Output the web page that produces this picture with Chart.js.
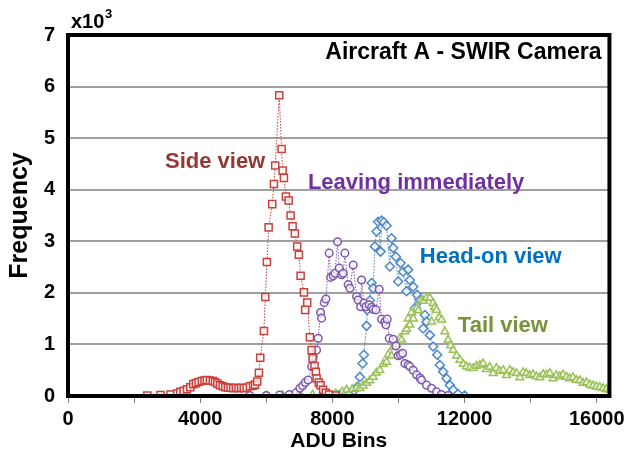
<!DOCTYPE html>
<html>
<head>
<meta charset="utf-8">
<title>Aircraft A - SWIR Camera</title>
<script src="https://cdn.jsdelivr.net/npm/chart.js@4.4.1/dist/chart.umd.min.js"></script>
<style>
  html, body { margin: 0; padding: 0; background: #fff; }
</style>
</head>
<body>
<canvas id="histogram" width="629" height="460"></canvas>
<script>
// ADU bin positions and frequencies (in thousands)
const sideX = [0, 2000, 2400, 2800, 3100, 3300, 3400, 3500, 3600, 3700, 3790, 3870, 3950, 4050, 4130, 4200, 4295, 4380, 4450, 4520, 4598, 4680, 4760, 4840, 4920, 5000, 5080, 5160, 5240, 5320, 5405, 5505, 5600, 5660, 5726, 5777, 5817, 5929, 5969, 6019, 6071, 6180, 6231, 6270, 6391, 6464, 6494, 6534, 6594, 6676, 6736, 6797, 6866, 6936, 6987, 7039, 7139, 7178, 7238, 7320, 7372, 7402, 7460, 7501, 7523, 7590, 7644, 7720, 7800, 7900, 8100, 8400, 11600];
const sideY = [0, 0, 0.01, 0.02, 0.03, 0.05, 0.08, 0.10, 0.13, 0.17, 0.23, 0.25, 0.27, 0.29, 0.30, 0.31, 0.30, 0.29, 0.27, 0.24, 0.21, 0.19, 0.17, 0.16, 0.16, 0.15, 0.16, 0.15, 0.16, 0.15, 0.16, 0.19, 0.20, 0.22, 0.28, 0.45, 0.74, 1.26, 1.92, 2.60, 3.27, 3.72, 4.11, 4.47, 5.83, 4.79, 4.37, 4.23, 3.87, 3.79, 3.50, 3.29, 3.15, 2.90, 2.74, 2.33, 2.01, 1.67, 1.81, 1.14, 0.89, 0.73, 0.58, 0.47, 0.34, 0.26, 0.21, 0.12, 0.06, 0.03, 0.01, 0, 0];

const leaveX = [0, 5000, 5500, 6000, 6400, 6700, 6900, 7017, 7100, 7180, 7269, 7372, 7420, 7523, 7571, 7644, 7674, 7753, 7804, 7904, 7946, 8025, 8076, 8158, 8206, 8279, 8327, 8379, 8478, 8530, 8630, 8733, 8781, 8854, 8884, 8953, 9014, 9114, 9186, 9235, 9316, 9416, 9489, 9589, 9619, 9658, 9719, 9840, 9921, 9991, 10060, 10124, 10194, 10293, 10345, 10445, 10548, 10650, 10699, 10850, 11001, 11153, 11300, 11500, 12000, 16000];
const leaveY = [0, 0, 0.01, 0.01, 0.02, 0.03, 0.06, 0.15, 0.20, 0.26, 0.31, 0.57, 0.76, 0.89, 1.12, 1.62, 1.51, 1.81, 1.88, 2.77, 2.30, 2.33, 2.38, 2.99, 2.48, 2.35, 2.38, 2.77, 2.16, 2.09, 2.54, 1.93, 1.86, 1.73, 2.25, 1.80, 1.73, 1.77, 1.72, 1.68, 1.67, 2.07, 1.49, 1.44, 1.38, 1.49, 1.12, 1.10, 0.97, 0.78, 0.80, 0.83, 0.63, 0.60, 0.57, 0.50, 0.41, 0.35, 0.31, 0.21, 0.15, 0.08, 0.03, 0.01, 0, 0];

const headX = [0, 6000, 7000, 7800, 8200, 8500, 8650, 8751, 8832, 8914, 8953, 9035, 9053, 9135, 9186, 9236, 9286, 9338, 9386, 9459, 9489, 9558, 9640, 9740, 9791, 9840, 9921, 9991, 10063, 10142, 10245, 10293, 10345, 10445, 10496, 10566, 10647, 10747, 10799, 10850, 10950, 11050, 11171, 11252, 11352, 11455, 11555, 11655, 11800, 12000, 12500, 16000];
const headY = [0, 0, 0.01, 0.01, 0.02, 0.05, 0.10, 0.18, 0.37, 0.63, 0.80, 1.36, 1.67, 1.85, 2.19, 2.09, 2.90, 3.19, 3.38, 2.80, 3.40, 3.37, 3.30, 2.51, 3.06, 2.87, 2.70, 2.22, 2.58, 2.41, 2.03, 2.45, 2.25, 2.12, 1.70, 1.96, 1.86, 1.31, 1.57, 1.44, 1.18, 0.96, 0.80, 0.60, 0.47, 0.34, 0.21, 0.12, 0.04, 0.01, 0, 0];

const tailX = [0, 5500, 6000, 6500, 7000, 7400, 7800, 8100, 8300, 8430, 8600, 8733, 8832, 8930, 9035, 9130, 9235, 9330, 9437, 9537, 9640, 9689, 9791, 9840, 9943, 10042, 10093, 10194, 10245, 10293, 10345, 10396, 10450, 10548, 10600, 10699, 10760, 10850, 10950, 11001, 11050, 11100, 11153, 11230, 11304, 11404, 11503, 11580, 11655, 11760, 11857, 11960, 12060, 12160, 12260, 12360, 12462, 12560, 12660, 12760, 12865, 12960, 13060, 13170, 13270, 13370, 13470, 13572, 13672, 13770, 13870, 13970, 14070, 14177, 14277, 14380, 14480, 14580, 14680, 14780, 14880, 14982, 15085, 15180, 15280, 15380, 15487, 15587, 15690, 15790, 15890, 15990, 16090, 16192, 16290, 16384];
const tailY = [0, 0, 0.01, 0.01, 0.02, 0.02, 0.03, 0.05, 0.08, 0.12, 0.13, 0.15, 0.15, 0.20, 0.25, 0.30, 0.37, 0.45, 0.50, 0.62, 0.66, 0.80, 0.78, 0.95, 1.00, 1.12, 1.09, 1.25, 1.30, 1.50, 1.38, 1.62, 1.50, 1.70, 1.66, 1.86, 1.84, 1.90, 1.90, 1.44, 1.80, 1.72, 1.67, 1.52, 1.48, 1.25, 1.09, 0.98, 0.89, 0.78, 0.70, 0.62, 0.57, 0.55, 0.54, 0.58, 0.60, 0.63, 0.52, 0.56, 0.44, 0.54, 0.48, 0.50, 0.40, 0.50, 0.46, 0.44, 0.36, 0.46, 0.44, 0.40, 0.42, 0.38, 0.36, 0.42, 0.41, 0.44, 0.34, 0.40, 0.38, 0.41, 0.37, 0.34, 0.36, 0.31, 0.30, 0.25, 0.26, 0.22, 0.20, 0.18, 0.17, 0.15, 0.13, 0.12];

const xTicks = [0, 2000, 4000, 6000, 8000, 10000, 12000, 14000, 16000];
const xLabels = [0, 4000, 8000, 12000, 16000];
const yTicks = [0, 1, 2, 3, 4, 5, 6, 7];

// labels written next to each curve
const noteTexts = ["Side view", "Leaving immediately", "Head-on view", "Tail view"];
const noteColors = ["#953735", "#7030a0", "#0070c0", "#77933c"];
const noteX = [2934, 7260, 10647, 11797];
const noteY = [4.54, 4.13, 2.70, 1.36];

const FONT = "'Liberation Sans', Arial, sans-serif";

function toPoints(xs, ys) {
  return xs.map((x, i) => ({ x: x, y: ys[i] }));
}

function series(label, xs, ys, color, style, radius) {
  return {
    label: label,
    data: toPoints(xs, ys),
    showLine: true,
    borderColor: color,
    borderWidth: 1,
    borderDash: [1.5, 1.5],
    pointStyle: style,
    // points sitting on zero are hidden behind the thick axis in the original
    pointRadius: (ctx) => (ctx.raw && ctx.raw.y === 0 ? 0 : radius),
    pointBorderWidth: 1.5,
    pointBorderColor: color,
    pointBackgroundColor: "rgba(255,255,255,0.7)"
  };
}

const frameAndText = {
  id: "frameAndText",
  afterDatasetsDraw(chart) {
    const { ctx, chartArea } = chart;
    ctx.save();
    ctx.strokeStyle = "#000";
    ctx.lineWidth = 4;
    ctx.strokeRect(chartArea.left, chartArea.top, chartArea.right - chartArea.left, chartArea.bottom - chartArea.top);
    ctx.restore();
  },
  afterDraw(chart) {
    const { ctx, chartArea, scales } = chart;
    ctx.save();
    ctx.textBaseline = "middle";
    ctx.textAlign = "left";
    ctx.font = "bold 22px " + FONT;
    noteTexts.forEach((t, i) => {
      ctx.fillStyle = noteColors[i];
      ctx.fillText(t, scales.x.getPixelForValue(noteX[i]), scales.y.getPixelForValue(noteY[i]));
    });

    ctx.fillStyle = "#000";
    ctx.textAlign = "right";
    ctx.font = "bold 23px " + FONT;
    ctx.fillText("Aircraft A - SWIR Camera", chartArea.right - 8, chartArea.top + 18);

    ctx.textAlign = "left";
    ctx.textBaseline = "alphabetic";
    ctx.font = "bold 20px " + FONT;
    ctx.fillText("x10", 71, 28);
    ctx.font = "bold 13px " + FONT;
    ctx.fillText("3", 105, 18);
    ctx.restore();
  }
};

const tickFont = { family: FONT, size: 20, weight: "bold" };

new Chart(document.getElementById("histogram"), {
  type: "scatter",
  data: {
    datasets: [
      series("Side view", sideX, sideY, "#c9413c", "rect", 5),
      series("Leaving immediately", leaveX, leaveY, "#7d58b0", "circle", 3.8),
      series("Tail view", tailX, tailY, "#9bc057", "triangle", 4.5),
      series("Head-on view", headX, headY, "#4a86c8", "rectRot", 4.5)
    ]
  },
  options: {
    responsive: false,
    animation: false,
    layout: { padding: { top: 35, right: 19, left: 0, bottom: 0 } },
    plugins: {
      legend: { display: false },
      tooltip: { enabled: false }
    },
    scales: {
      x: {
        type: "linear",
        min: 0,
        max: 16384,
        afterBuildTicks: (scale) => { scale.ticks = xTicks.map(v => ({ value: v })); },
        afterFit: (scale) => { scale.height = 64; },
        grid: { drawOnChartArea: false, drawTicks: true, tickLength: 7, color: "#808080", lineWidth: 1 },
        border: { display: false },
        ticks: {
          autoSkip: false,
          maxRotation: 0,
          padding: 4,
          color: "#000",
          font: tickFont,
          callback: (v) => xLabels.includes(v) ? String(v) : ""
        },
        title: {
          display: true,
          text: "ADU Bins",
          color: "#000",
          font: { family: FONT, size: 21, weight: "bold" },
          padding: { top: 0, bottom: 6 }
        }
      },
      y: {
        min: 0,
        max: 7,
        afterBuildTicks: (scale) => { scale.ticks = yTicks.map(v => ({ value: v })); },
        afterFit: (scale) => { scale.width = 68; },
        grid: { color: "#a0a0a0", lineWidth: 2, drawTicks: false },
        border: { display: false },
        ticks: { padding: 13, color: "#000", font: tickFont },
        title: {
          display: true,
          text: "Frequency",
          color: "#000",
          font: { family: FONT, size: 25, weight: "bold" },
          padding: { top: 5, bottom: 0 }
        }
      }
    }
  },
  plugins: [frameAndText]
});
</script>
</body>
</html>
